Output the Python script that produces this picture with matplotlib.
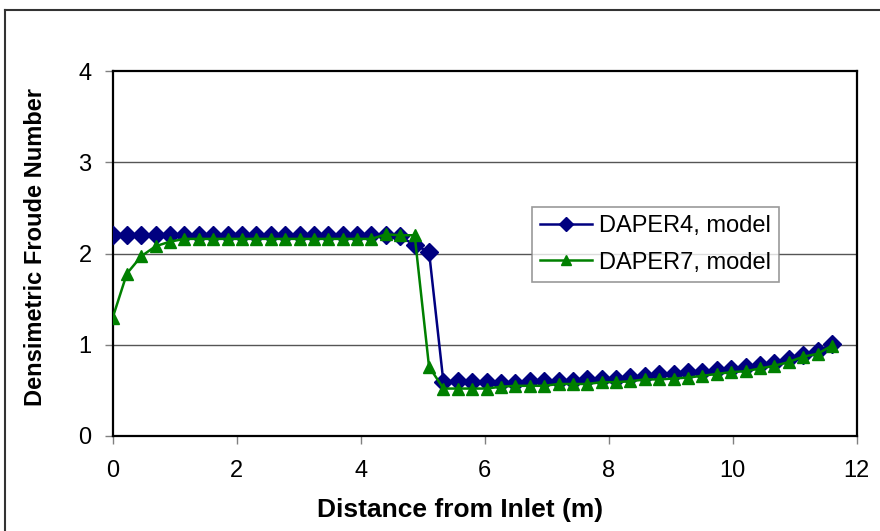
import numpy as np
from matplotlib import pyplot as plt
from matplotlib.lines import Line2D

# distance from inlet (m), 51 evenly spaced model nodes
dist = np.linspace(0, 11.6, 51)

daper4 = [2.2, 2.2, 2.2, 2.2, 2.2, 2.2, 2.2, 2.2, 2.2, 2.2,
          2.2, 2.2, 2.2, 2.2, 2.2, 2.2, 2.2, 2.2, 2.2, 2.2,
          2.19, 2.09, 2.02, 0.59, 0.60, 0.59, 0.59, 0.58, 0.58, 0.60,
          0.60, 0.60, 0.60, 0.62, 0.62, 0.63, 0.65, 0.66, 0.68, 0.68,
          0.70, 0.70, 0.72, 0.73, 0.76, 0.78, 0.80, 0.84, 0.89, 0.93,
          1.01]

daper7 = [1.29, 1.78, 1.97, 2.08, 2.13, 2.16, 2.16, 2.16, 2.16, 2.16,
          2.16, 2.16, 2.16, 2.16, 2.16, 2.16, 2.16, 2.16, 2.16, 2.21,
          2.2, 2.2, 0.76, 0.52, 0.52, 0.52, 0.52, 0.54, 0.55, 0.55,
          0.55, 0.57, 0.57, 0.57, 0.59, 0.59, 0.60, 0.62, 0.62, 0.63,
          0.64, 0.66, 0.68, 0.70, 0.71, 0.74, 0.77, 0.81, 0.87, 0.90,
          0.99]

labels = ["DAPER4, model", "DAPER7, model"]

plt.rcParams['font.family'] = ['Liberation Sans', 'DejaVu Sans']

fig = plt.figure(figsize=(8.8, 5.31), dpi=100)
ax = fig.add_axes([112.5/880, 1-436/531, (856.7-112.5)/880, (436-71)/531])

ax.plot(dist, daper4, color='#000080', marker='D', markersize=9, lw=1.8,
        label=labels[0], zorder=3)
ax.plot(dist, daper7, color='#008000', marker='^', markersize=9, lw=1.8,
        label=labels[1], zorder=4)

ax.set_xlim(0, 12)
ax.set_ylim(0, 4)
ax.set_xticks(range(0, 13, 2))
ax.set_yticks(range(0, 5))
for y in [1, 2, 3]:
    ax.axhline(y, color='#555555', lw=1, zorder=1)
for s in ax.spines.values():
    s.set_linewidth(1.6)
    s.set_color('black')
ax.tick_params(direction='out', length=6, width=1, color='#808080',
               labelsize=17)
ax.tick_params(axis='x', pad=11)
ax.tick_params(axis='y', pad=9)

ax.set_xlabel("Distance from Inlet (m)", fontsize=19, fontweight='bold')
ax.set_ylabel("Densimetric Froude Number", fontsize=17, fontweight='bold')
ax.xaxis.set_label_coords(0.467, -0.170)
ax.yaxis.set_label_coords(-0.088, 0.519)

leg = ax.legend(loc='upper right', bbox_to_anchor=(0.896, 0.627), fontsize=17,
                frameon=True, fancybox=False, handlelength=2.2,
                borderpad=0.35, labelspacing=0.6, handletextpad=0.3,
                borderaxespad=0, markerscale=0.75)
leg.get_frame().set_edgecolor('#808080')
leg.get_frame().set_linewidth(1.2)

# outer chart frame (only left and top visible)
fig.add_artist(Line2D([5/880, 5/880], [0, 1-10/531], color='#333333', lw=1.5,
                      transform=fig.transFigure))
fig.add_artist(Line2D([5/880, 1], [1-10/531, 1-10/531], color='#333333', lw=1.5,
                      transform=fig.transFigure))

fig.savefig("out.png", dpi=100)
